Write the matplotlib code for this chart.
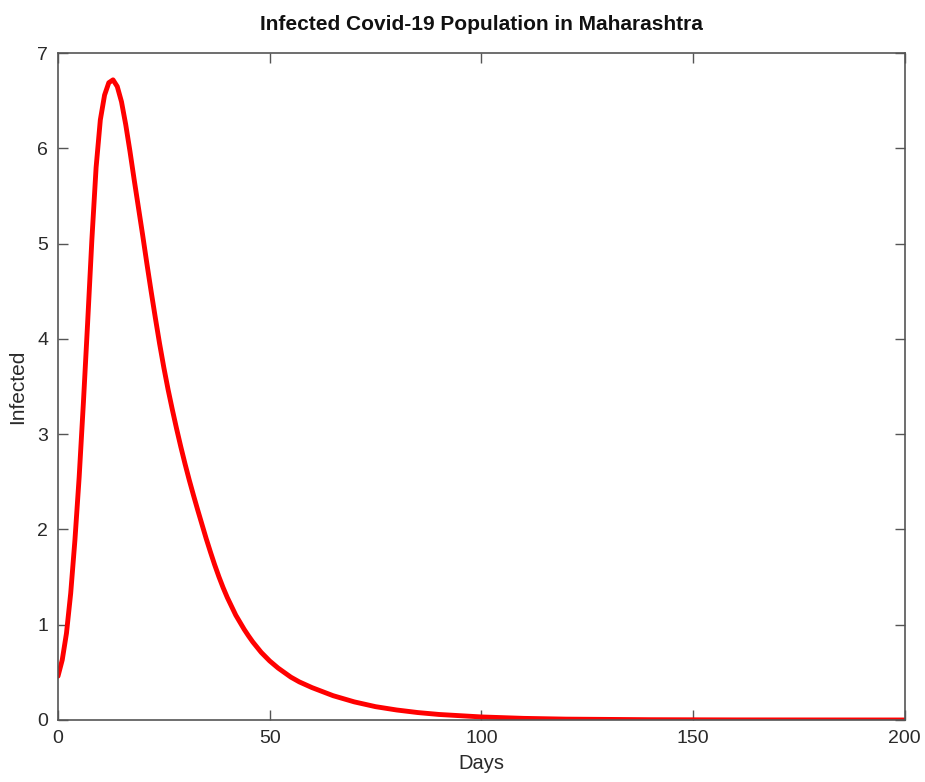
import matplotlib
matplotlib.use('Agg')
import matplotlib.pyplot as plt

# Infected population curve
days = [0, 1, 2, 3, 4, 5, 6, 7, 8, 9, 10, 11, 12, 13, 14, 15, 16, 17, 18, 19,
        20, 21, 22, 23, 24, 25, 26, 27, 28, 29, 30, 31, 32, 33, 34, 35, 36,
        37, 38, 39, 40, 42, 44, 45, 46, 48, 50, 52, 55, 57, 60, 65, 70, 75,
        80, 85, 90, 100, 110, 120, 140, 160, 200]
infected = [0.46, 0.63, 0.91, 1.33, 1.89, 2.55, 3.33, 4.17, 5.04, 5.8, 6.3,
            6.56, 6.69, 6.72, 6.65, 6.49, 6.25, 5.97, 5.67, 5.38, 5.09, 4.79,
            4.50, 4.22, 3.95, 3.70, 3.47, 3.26, 3.06, 2.87, 2.69, 2.52, 2.36,
            2.205, 2.055, 1.905, 1.765, 1.63, 1.505, 1.39, 1.285, 1.1, 0.95,
            0.883, 0.82, 0.71, 0.62, 0.545, 0.45, 0.40, 0.34, 0.255, 0.19,
            0.14, 0.105, 0.078, 0.058, 0.032, 0.017, 0.009, 0.003, 0.001,
            0.0001]

x_ticks = [0, 50, 100, 150, 200]
y_ticks = [0, 1, 2, 3, 4, 5, 6, 7]

plt.rcParams['font.family'] = ['Liberation Sans', 'DejaVu Sans']

fig = plt.figure(figsize=(9.25, 7.82), dpi=100)
ax = fig.add_axes([0.0627, 0.0793, 0.9153, 0.8527])

ax.plot(days, infected, color='#ff0000', linewidth=3.5,
        solid_capstyle='round', solid_joinstyle='round')

ax.set_xlim(0, 200)
ax.set_ylim(0, 7)
ax.set_xticks(x_ticks)
ax.set_yticks(y_ticks)
ax.tick_params(direction='in', length=7, width=1, top=True, right=True,
               colors='#555555', labelcolor='#2a2a2a', labelsize=14, pad=7)
for spine in ax.spines.values():
    spine.set_edgecolor('#555555')
    spine.set_linewidth(1.2)

ax.set_xlabel('Days', fontsize=14.5, color='#2a2a2a', labelpad=5)
ax.set_ylabel('Infected', fontsize=15, color='#2a2a2a', labelpad=7)
ax.set_title('Infected Covid-19 Population in Maharashtra', fontsize=15,
             fontweight='bold', color='#111111', pad=17)

fig.savefig('out.png', dpi=100, facecolor='white')
